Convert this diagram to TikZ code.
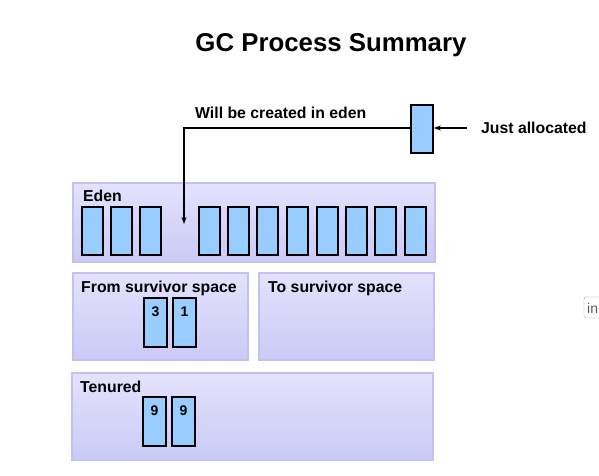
\documentclass[tikz,border=0pt]{standalone}
\usepackage{fontspec}
\setmainfont{Liberation Sans}
\usetikzlibrary{arrows.meta}
\definecolor{regtop}{HTML}{E4E2FD}
\definecolor{regbot}{HTML}{CACAF6}
\definecolor{regline}{HTML}{C4C0F0}
\definecolor{cellfill}{HTML}{99CCFF}
\tikzset{
  region/.style={draw=regline, line width=1.2pt, top color=regtop, bottom color=regbot},
  cell/.style={draw=black, line width=1.6pt, fill=cellfill},
  lbl/.style={font=\bfseries\fontsize{15.8}{18}\selectfont, anchor=west, inner sep=0pt},
  num/.style={font=\bfseries\fontsize{14}{16}\selectfont, inner sep=0pt},
  conn/.style={line width=1.3pt, -{Stealth[length=7pt,width=5pt]}}
}
\begin{document}
\begin{tikzpicture}[x=1pt,y=-1pt]
\useasboundingbox[fill=white] (0,0) rectangle (599,475);
% title
\node[font=\bfseries\fontsize{25.8}{30}\selectfont, inner sep=0pt] (title) at (331,45) {GC Process Summary};
% regions
\path[region] (73,183) rectangle (435,262);
\node[lbl] (eden) at (83,196) {Eden};
\path[region] (73,273) rectangle (248,360);
\node[lbl] (from) at (81,288) {From survivor\ space};
\path[region] (259,273) rectangle (434,360);
\node[lbl] (to) at (268,288) {To survivor\ space};
\path[region] (72,373) rectangle (433,460);
\node[lbl] (ten) at (80,387) {Tenured};
% eden cells
\foreach \x in {82,111,140} {\path[cell] (\x,207) rectangle ++(21,48);}
\foreach \x in {199,228,257,287,317,346,375,405} {\path[cell] (\x,207) rectangle ++(21,48);}
% survivor cells
\path[cell] (144,298) rectangle (167,347);
\node[num] (c3) at (155.5,312) {3};
\path[cell] (173,298) rectangle (196,347);
\node[num] (c1) at (184.5,312) {1};
% tenured cells
\path[cell] (143,397) rectangle (166,446);
\node[num] (t1) at (154.5,411) {9};
\path[cell] (172,397) rectangle (195,446);
\node[num] (t2) at (183.5,411) {9};
% just allocated
\node[cell, minimum width=22pt, minimum height=48pt, inner sep=0pt] (new) at (422,129) {};
\node[lbl] (just) at (481,128) {Just allocated};
\node[lbl] (will) at (195,113) {Will be created in eden};
\coordinate (target) at (184,224);
\draw[conn] (new.west |- 0,128) -| (target);
\draw[conn] (just.west) ++(-14,0) -- (new.east |- 0,128);
% tooltip fragment
\draw[draw=gray!70, fill=white, rounded corners=1.5pt] (584,297) rectangle (610,318);
\node[font=\fontsize{14}{16}\selectfont, text=gray!70!black, anchor=west, inner sep=0pt] (tip) at (587,308) {in};
\end{tikzpicture}
\end{document}
